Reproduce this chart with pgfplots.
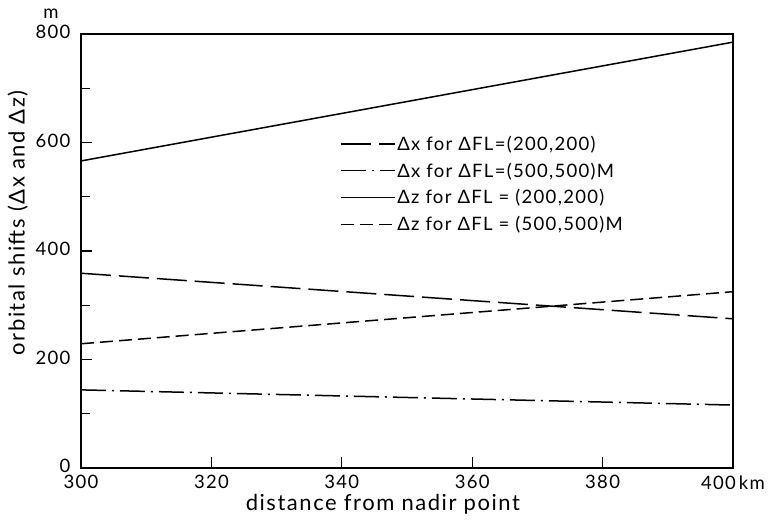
\documentclass[border=0pt]{standalone}
\usepackage{fontspec}
\setmainfont{Lato}[LetterSpace=7]
\usepackage{pgfplots}
\pgfplotsset{compat=1.18}

\begin{document}
\begin{tikzpicture}
\begin{axis}[
  name=ax,
  scale only axis,
  width=652pt, height=434pt,
  xmin=300, xmax=400, ymin=0, ymax=800,
  xtick={300,320,340,360,380,400},
  xticklabels={300,320,340,360,380,400\,km},
  ytick={0,200,400,600,800},
  minor ytick={100,300,500,700},
  xtick pos=bottom, ytick pos=left,
  tick align=inside,
  major tick length=11pt, minor tick length=9pt,
  every tick/.style={black, line width=1.2pt},
  axis line style={line width=1.6pt},
  tick label style={font=\fontsize{18.5}{21}\selectfont},
  /pgf/number format/assume math mode=true,
  xticklabel style={yshift=-4pt},
  yticklabel style={xshift=-7pt, yshift=2pt},
  label style={font=\fontsize{22}{25}\selectfont},
  xlabel={distance from nadir point},
  xlabel style={at={(axis description cs:0.463,0)}, anchor=north, yshift=-23pt},
  ylabel={orbital shifts (Δx and Δz)},
  ylabel style={at={(axis description cs:-0.097,0.565)}, anchor=center},
  legend cell align=left,
  legend style={draw=none, fill=none, at={(rel axis cs:0.392,0.775)}, anchor=north west,
    row sep=7pt, font=\fontsize{18.5}{21}\selectfont},
  legend image code/.code={\draw[#1] (0pt,0pt) -- (54pt,0pt);},
]
\addplot[black, line width=1.5pt, dash pattern=on 30pt off 8pt] coordinates {(300,359) (400,275)};
\addlegendentry{Δx for ΔFL=(200,200)}
\addplot[black, line width=1.5pt, dash pattern=on 25pt off 6pt on 2pt off 6pt] coordinates {(300,144) (400,116)};
\addlegendentry{Δx for ΔFL=(500,500)M}
\addplot[black, line width=1.5pt] coordinates {(300,566) (400,785)};
\addlegendentry{Δz for ΔFL = (200,200)}
\addplot[black, line width=1.5pt, dash pattern=on 13pt off 6pt] coordinates {(300,229) (400,325)};
\addlegendentry{Δz for ΔFL = (500,500)M}
\end{axis}
\node[font=\fontsize{18.5}{21}\selectfont, anchor=south] at ([xshift=-30pt,yshift=12pt]ax.north west) {m};
\pgfresetboundingbox
\path[use as bounding box] ([shift={(-81pt,-54pt)}]ax.south west) rectangle ([shift={(39pt,34pt)}]ax.north east);
\end{tikzpicture}
\end{document}
